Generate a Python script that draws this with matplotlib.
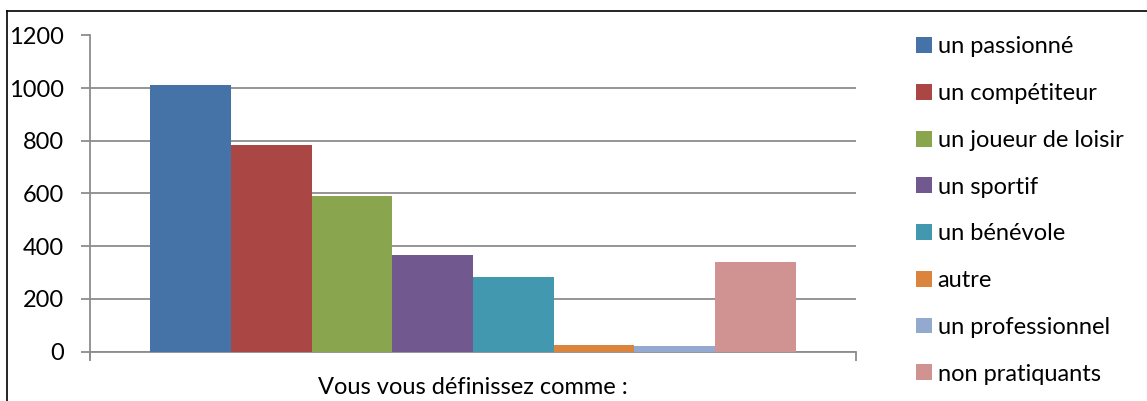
import matplotlib
matplotlib.use("Agg")
import matplotlib.pyplot as plt
from matplotlib.lines import Line2D
from matplotlib.patches import Patch

plt.rcParams['font.family'] = ['Lato', 'DejaVu Sans']

series_names = ["un passionné", "un compétiteur", "un joueur de loisir", "un sportif",
                "un bénévole", "autre", "un professionnel", "non pratiquants"]
values = [1011, 783, 589, 366, 283, 25, 21, 340]
colors = ["#4572A7", "#AA4643", "#89A54E", "#71588F", "#4198AF", "#DB843D", "#93A9CF", "#D19392"]
category = "Vous vous définissez comme :"
yticks = [0, 200, 400, 600, 800, 1000, 1200]

FS = 17
W, H = 1147, 401
fig = plt.figure(figsize=(W / 100, H / 100), dpi=100)
ax = fig.add_axes([90 / W, 1 - 351.5 / H, (856 - 90) / W, (351.5 - 35.5) / H])

n = len(values)
gap = 1.5
bw = 1.0 / (n + gap)
start = gap / 2 * bw
for i, (v, c, name) in enumerate(zip(values, colors, series_names)):
    ax.bar(start + (i + 0.5) * bw, v, width=bw, color=c, label=name, zorder=3, linewidth=0)

ax.set_xlim(0, 1)
ax.set_ylim(0, 1200)
ax.set_yticks(yticks)
ax.set_yticklabels([str(t) for t in yticks], fontsize=FS)
ax.yaxis.grid(True, color="#8C8C8C", linewidth=1.3, zorder=0)
ax.tick_params(axis='y', length=6.5, width=1.3, color="#8C8C8C", pad=12)
ax.set_xticks([0, 1])
ax.set_xticklabels(["", ""])
ax.tick_params(axis='x', length=6.5, width=1.3, color="#8C8C8C", direction='out')
ax.text(0.5, -0.08, category, transform=ax.transAxes, ha='center', va='top', fontsize=FS)
for s in ["top", "right"]:
    ax.spines[s].set_visible(False)
for s in ["left", "bottom"]:
    ax.spines[s].set_color("#8C8C8C")
    ax.spines[s].set_linewidth(1.3)
ax.spines["left"].set_bounds(-25, 1200)

# legend
handles = [Patch(facecolor=c, edgecolor='none') for c in colors]
leg = fig.legend(handles, series_names, loc='upper left', bbox_to_anchor=(907 / W, 1 - 27 / H),
                 frameon=False, fontsize=FS, handlelength=0.65, handleheight=0.65,
                 handletextpad=0.25, labelspacing=1.09, borderaxespad=0)

# outer border
fig.add_artist(Line2D([7 / W, 1], [1 - 10.7 / H, 1 - 10.7 / H], color='black', linewidth=1.2))
fig.add_artist(Line2D([7 / W, 7 / W], [0, 1 - 10.7 / H], color='black', linewidth=1.2))

fig.savefig("out.png", dpi=100)
